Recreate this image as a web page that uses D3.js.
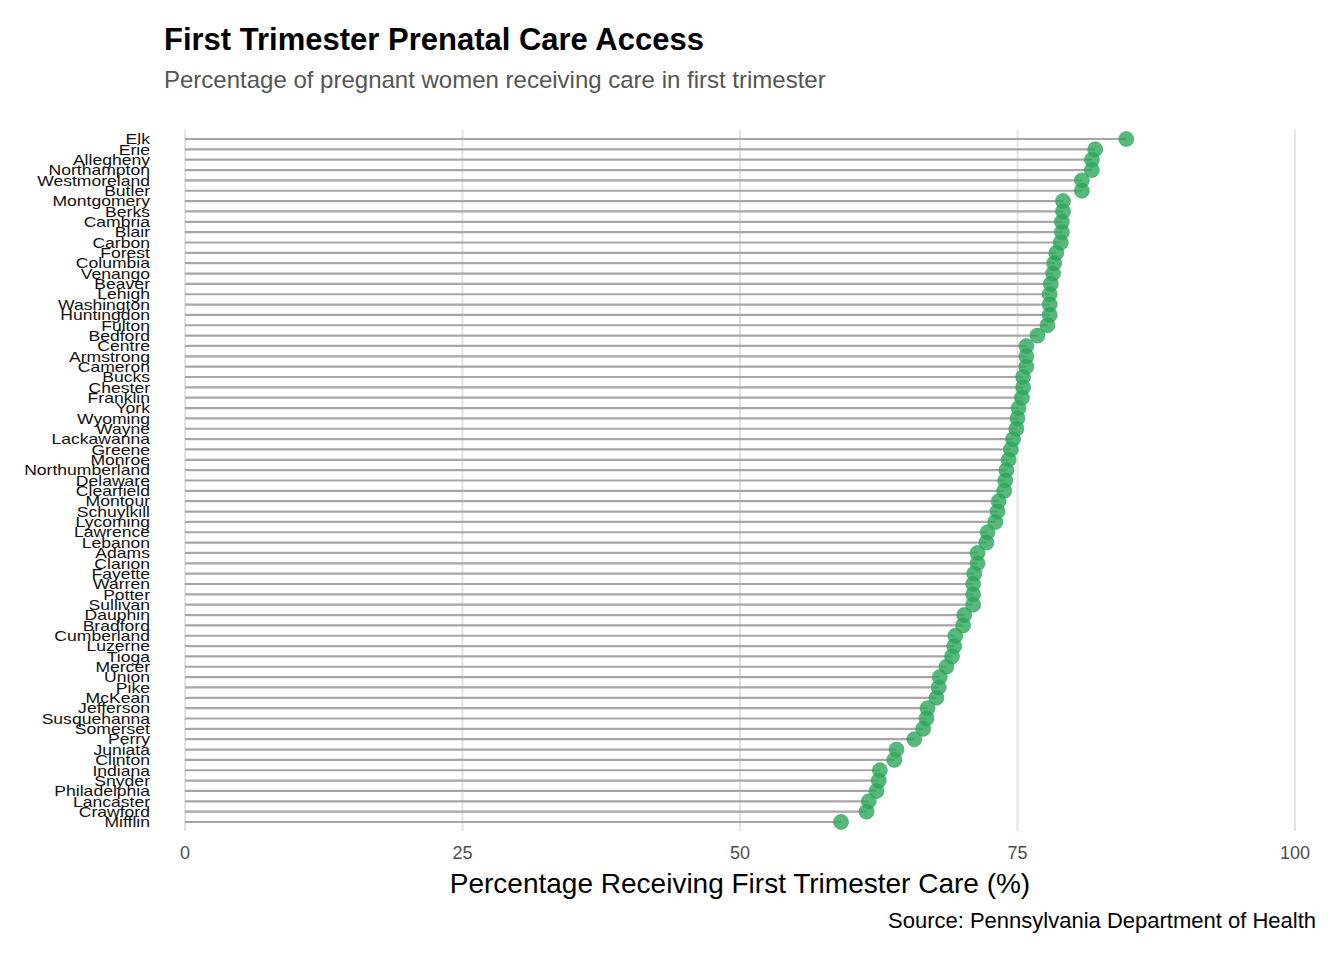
<!DOCTYPE html>
<html><head><meta charset="utf-8">
<script src="https://cdn.jsdelivr.net/npm/d3@7"></script>
<style>body{margin:0;background:#fff;font-family:"Liberation Sans",Arial,sans-serif}</style>
</head><body><svg id="c" width="1344" height="960"></svg>
<script>
const counties = ["Elk","Erie","Allegheny","Northampton","Westmoreland","Butler","Montgomery","Berks","Cambria","Blair","Carbon","Forest","Columbia","Venango","Beaver","Lehigh","Washington","Huntingdon","Fulton","Bedford","Centre","Armstrong","Cameron","Bucks","Chester","Franklin","York","Wyoming","Wayne","Lackawanna","Greene","Monroe","Northumberland","Delaware","Clearfield","Montour","Schuylkill","Lycoming","Lawrence","Lebanon","Adams","Clarion","Fayette","Warren","Potter","Sullivan","Dauphin","Bradford","Cumberland","Luzerne","Tioga","Mercer","Union","Pike","McKean","Jefferson","Susquehanna","Somerset","Perry","Juniata","Clinton","Indiana","Snyder","Philadelphia","Lancaster","Crawford","Mifflin"];
const pct = [84.8,82.0,81.7,81.7,80.8,80.8,79.1,79.1,79.0,79.0,78.9,78.5,78.3,78.2,78.0,77.9,77.9,77.9,77.7,76.8,75.8,75.8,75.8,75.5,75.5,75.4,75.1,75.0,74.9,74.6,74.4,74.2,74.0,73.9,73.8,73.3,73.2,73.0,72.3,72.2,71.4,71.4,71.1,71.0,71.0,71.0,70.2,70.1,69.4,69.3,69.1,68.6,68.0,67.9,67.7,66.9,66.8,66.5,65.7,64.1,63.9,62.6,62.5,62.3,61.6,61.4,59.1];
const ticks = [0,25,50,75,100];

const svg = d3.select("#c");
const x = d3.scaleLinear().domain([0,100]).range([185,1295]);
const y = d3.scalePoint().domain(counties).range([139,822]);

svg.append("g").selectAll("line").data(ticks).join("line")
  .attr("x1",d=>x(d)).attr("x2",d=>x(d)).attr("y1",130).attr("y2",831)
  .attr("stroke","#e3e3e3").attr("stroke-width",2);

svg.append("g").selectAll("line").data(counties).join("line")
  .attr("x1",x(0)).attr("x2",(d,i)=>x(pct[i])).attr("y1",d=>y(d)).attr("y2",d=>y(d))
  .attr("stroke","#a6a6a6").attr("stroke-width",2.2);

svg.append("g").selectAll("circle").data(counties).join("circle")
  .attr("cx",(d,i)=>x(pct[i])).attr("cy",d=>y(d)).attr("r",7.5)
  .attr("fill","#2ca65a").attr("fill-opacity",0.8)
  .attr("stroke","#2ca65a").attr("stroke-opacity",0.6);

svg.append("g").selectAll("text").data(counties).join("text")
  .attr("x",150).attr("y",d=>y(d)).attr("dy","0.35em").attr("text-anchor","end")
  .attr("font-size",15).attr("fill","#111").text(d=>d)
  .each(function(){ const w=this.getComputedTextLength(); d3.select(this).attr("textLength",w*1.17).attr("lengthAdjust","spacingAndGlyphs"); });

svg.append("g").selectAll("text").data(ticks).join("text")
  .attr("x",d=>x(d)).attr("y",859).attr("text-anchor","middle")
  .attr("font-size",18).attr("fill","#4d4d4d").text(d=>d);

svg.append("text").attr("x",164).attr("y",50).attr("font-size",31).attr("font-weight","bold").text("First Trimester Prenatal Care Access");
svg.append("text").attr("x",164).attr("y",88).attr("font-size",24).attr("fill","#555").text("Percentage of pregnant women receiving care in first trimester");
svg.append("text").attr("x",740).attr("y",893).attr("text-anchor","middle").attr("font-size",28).text("Percentage Receiving First Trimester Care (%)");
svg.append("text").attr("x",1316).attr("y",928).attr("text-anchor","end").attr("font-size",22).text("Source: Pennsylvania Department of Health");
</script></body></html>
